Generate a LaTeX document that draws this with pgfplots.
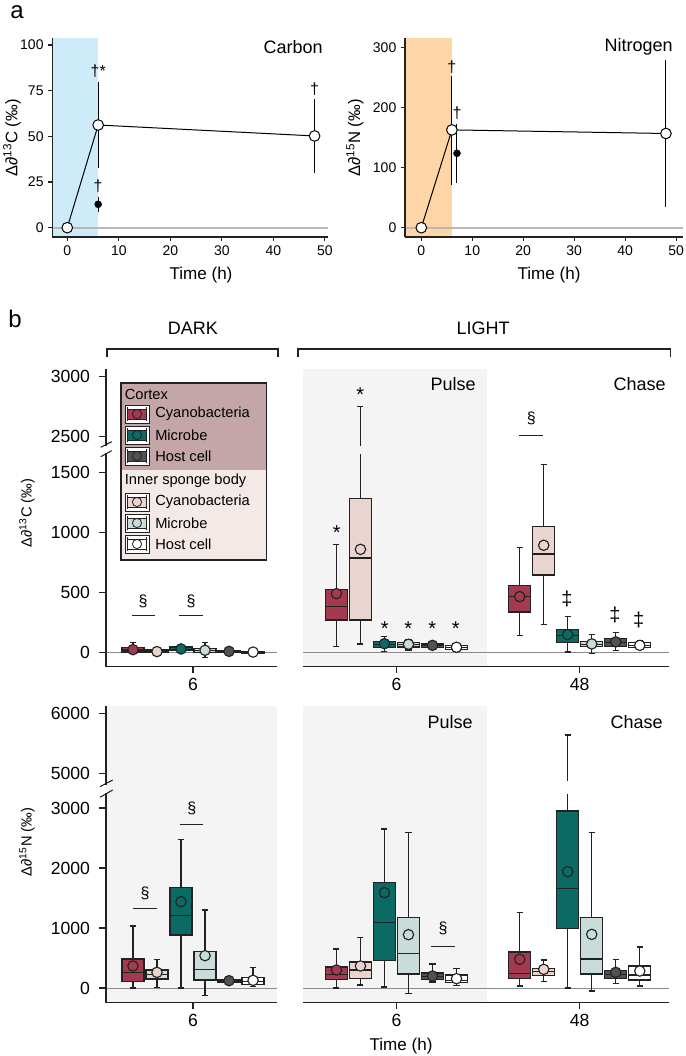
\documentclass[border=0pt]{standalone}
\usepackage{pgfplots}
\pgfplotsset{compat=1.18}
\usepgfplotslibrary{statistics}
\usepackage{fontspec}
\setmainfont{Liberation Sans}
\definecolor{cR}{HTML}{A23A50}
\definecolor{cRi}{HTML}{E9D4CF}
\definecolor{cT}{HTML}{0B6A63}
\definecolor{cTi}{HTML}{C9DCDA}
\definecolor{cH}{HTML}{505350}
\definecolor{cHi}{HTML}{FFFFFF}
\definecolor{bgG}{HTML}{F4F4F4}
\definecolor{legC}{HTML}{C4A6A9}
\definecolor{legI}{HTML}{F3E9E7}
\definecolor{cBlue}{HTML}{CDEBF8}
\definecolor{cOr}{HTML}{FDD5A7}
\definecolor{axc}{HTML}{222222}
\newcommand\fT{\fontsize{10.5}{12}\selectfont}
\newcommand\fTb{\fontsize{13.2}{15}\selectfont}
\newcommand\fTitle{\fontsize{13.5}{15}\selectfont}
\newcommand\fAx{\fontsize{12.8}{14}\selectfont}
\newcommand\fYa{\fontsize{12.5}{14}\selectfont}
\newcommand\fYb{\fontsize{11}{13}\selectfont}
\newcommand\fHd{\fontsize{13.5}{15}\selectfont}
\newcommand\fLeg{\fontsize{11}{13}\selectfont}
\newcommand\fPanel{\fontsize{18}{20}\selectfont}
\newcommand\fSym{\fontsize{12}{14}\selectfont}
\newcommand\fAst{\fontsize{15}{16}\selectfont}
\pgfplotsset{
 base/.style={scale only axis, anchor=south west, axis on top,
   axis line style={line width=0.8pt,-,axc},
   tick align=outside, major tick length=3pt,
   every tick/.style={line width=0.8pt, axc},
   tick label style={font=\fT},
   /pgf/number format/assume math mode=true},
 bpan/.style={base, boxplot/draw direction=y, major tick length=5pt,
   tick label style={font=\fTb}, yticklabel style={xshift=-3.5pt}},
 trC/.style={y coord trafo/.code={\def\tmpa{##1}\ifx\tmpa\empty\let\pgfmathresult\empty\else\pgfmathparse{##1>2000 ? ##1-700 : ##1}\fi}},
 trN/.style={y coord trafo/.code={\def\tmpa{##1}\ifx\tmpa\empty\let\pgfmathresult\empty\else\pgfmathparse{##1>4000 ? ##1-1430 : ##1}\fi}}
}
\newcommand\bx[8]{%
\addplot[draw=axc, fill=#8, line width=0.9pt, boxplot prepared={draw position=#1, lower whisker=#2, lower quartile=#3, median=#4, upper quartile=#5, upper whisker=#6, box extend=0.12, whisker extend=0.033}] coordinates {};
\addplot[only marks, mark=*, mark size=3.9pt, mark options={fill=#8, draw=axc, line width=0.85pt}] coordinates {(#1,#7)};}
\newcommand\lkey[2]{%
\draw[axc, line width=0.6pt, fill=white] (125,{#1-9}) rectangle (149,{#1+9});
\draw[axc, line width=0.5pt, fill=#2] (127.5,{#1-5}) rectangle (146.5,{#1+5});
\draw[axc, line width=0.5pt] (127.5,{#1-7})--(127.5,{#1+7}) (146.5,{#1-7})--(146.5,{#1+7});
\draw[axc, line width=0.6pt, fill=#2] (137,#1) circle[radius=4.6];}
\begin{document}
\begin{tikzpicture}
\useasboundingbox (0,0) rectangle (513.75pt,-792pt);
% ---------- a: carbon
\begin{axis}[base, at={(39.2pt,-177.75pt)}, width=206.8pt, height=149.5pt,
  xmin=-2.91, xmax=50.6, ymin=-5.1, ymax=104,
  axis x line*=bottom, axis y line*=left,
  xtick={0,10,20,30,40,50}, ytick={0,25,50,75,100}]
\fill[cBlue] (axis cs:-2.91,-5.1) rectangle (axis cs:6,104);
\draw[black!28, line width=1.6pt] (axis cs:-2.91,0) -- (axis cs:50.6,0);
\addplot[only marks, mark=none, black, error bars/.cd, y dir=both, y explicit,
  error bar style={line width=0.75pt}, error mark options={mark size=2.3pt, line width=0.75pt}]
  coordinates {(6,56.2) +=(0,21.9) -=(0,21.9) (48,50.2) +=(0,18.4) -=(0,18.6)};
\addplot[black, line width=0.75pt, mark=*, mark size=4pt, mark options={fill=white, line width=0.75pt}]
  coordinates {(0,0) (6,56.2) (48,50.2)};
\addplot[only marks, black, mark=*, mark size=2.6pt, error bars/.cd, y dir=both, y explicit,
  error bar style={line width=0.75pt}, error mark options={mark size=2pt, line width=0.75pt}]
  coordinates {(6,12.8) +=(0,2.7) -=(0,2.8)};
\node[font=\fSym] at (axis cs:6,85.4) {†*};
\node[font=\fSym] at (axis cs:6,22.8) {†};
\node[font=\fSym] at (axis cs:48,75.7) {†};
\end{axis}
% ---------- a: nitrogen
\begin{axis}[base, at={(303.75pt,-177.75pt)}, width=208.7pt, height=149.5pt,
  xmin=-3.2, xmax=51.4, ymin=-15.5, ymax=316.7,
  axis x line*=bottom, axis y line*=left,
  xtick={0,10,20,30,40,50}, ytick={0,100,200,300}]
\fill[cOr] (axis cs:-3.2,-15.5) rectangle (axis cs:6,316.7);
\draw[black!28, line width=1.6pt] (axis cs:-3.2,0) -- (axis cs:51.4,0);
\addplot[only marks, mark=none, black, error bars/.cd, y dir=both, y explicit,
  error bar style={line width=0.75pt}, error mark options={mark size=2.3pt, line width=0.75pt}]
  coordinates {(6,163) +=(0,85) -=(0,87) (48,157) +=(0,118) -=(0,118)};
\addplot[black, line width=0.75pt, mark=*, mark size=4pt, mark options={fill=white, line width=0.75pt}]
  coordinates {(0,0) (6,163) (48,157)};
\addplot[only marks, black, mark=*, mark size=2.6pt, error bars/.cd, y dir=both, y explicit,
  error bar style={line width=0.75pt}, error mark options={mark size=2pt, line width=0.75pt}]
  coordinates {(7,124) +=(0,44) -=(0,44.5)};
\node[font=\fSym] at (axis cs:6,268) {†};
\node[font=\fSym] at (axis cs:7,190) {†};
\end{axis}
% ---------- b: top left (dark, carbon)
\begin{axis}[bpan, trC, at={(79.5pt,-499.875pt)}, width=128.25pt, height=223.125pt,
  xmin=0.5254, xmax=1.458, ymin=-118.3, ymax=3060.8,
  axis x line*=bottom, axis y line*=left,
  xtick={1}, xticklabels={6},
  ytick={0,500,1000,1500,2500,3000}, yticklabels={0,500,1000,1500,2500,3000}]
\draw[black!45, line width=0.7pt] (axis cs:0.5254,0) -- (axis cs:1.458,0);
\bx{0.6725}{0}{3}{20}{42}{81}{22}{cR}
\bx{0.8035}{0}{2}{8}{20}{35}{6}{cRi}
\bx{0.9345}{0}{12}{25}{45}{60}{28}{cT}
\bx{1.0655}{-44}{0}{12}{35}{81}{17}{cTi}
\bx{1.1965}{-5}{0}{6}{18}{25}{8}{cH}
\bx{1.3275}{-10}{-5}{0}{10}{15}{2}{cHi}
\end{axis}
% ---------- b: top right (light, carbon)
\begin{axis}[bpan, trC, at={(227.25pt,-499.875pt)}, width=274.5pt, height=223.125pt,
  xmin=0.49, xmax=2.487, ymin=-118.3, ymax=3060.8,
  axis x line*=bottom, hide y axis,
  xtick={1,2}, xticklabels={6,48}]
\fill[bgG] (axis cs:0.49,-118.3) rectangle (axis cs:1.4935,3060.8);
\draw[black!45, line width=0.7pt] (axis cs:0.49,0) -- (axis cs:2.487,0);
\bx{0.6725}{50}{270}{381}{525}{897}{489}{cR}
\bx{0.8035}{70}{270}{786}{1281}{2750}{858}{cRi}
\bx{0.9345}{8}{42}{65}{92}{133}{72}{cT}
\bx{1.0655}{20}{45}{62}{85}{110}{67}{cTi}
\bx{1.1965}{25}{40}{55}{70}{90}{58}{cH}
\bx{1.3275}{10}{25}{40}{55}{70}{42}{cHi}
\bx{1.6725}{139}{336}{464}{556}{872}{464}{cR}
\bx{1.8035}{233}{645}{820}{1050}{1567}{892}{cRi}
\bx{1.9345}{3}{83}{139}{189}{300}{148}{cT}
\bx{2.0655}{-11}{50}{68}{87}{148}{70}{cTi}
\bx{2.1965}{17}{50}{80}{112}{167}{87}{cH}
\bx{2.3275}{25}{42}{60}{83}{100}{58}{cHi}
\end{axis}
% ---------- b: bottom left (dark, nitrogen)
\begin{axis}[bpan, trN, at={(79.5pt,-752.025pt)}, width=128.25pt, height=222.15pt,
  xmin=0.5254, xmax=1.458, ymin=-245, ymax=6121.7,
  axis background/.style={fill=bgG},
  axis x line*=bottom, axis y line*=left,
  xtick={1}, xticklabels={6},
  ytick={0,1000,2000,3000,5000,6000}, yticklabels={0,1000,2000,3000,5000,6000}]
\draw[black!45, line width=0.7pt] (axis cs:0.5254,0) -- (axis cs:1.458,0);
\bx{0.6725}{0}{111}{261}{483}{1033}{367}{cR}
\bx{0.8035}{11}{150}{222}{300}{478}{261}{cRi}
\bx{0.9345}{0}{883}{1211}{1678}{2478}{1439}{cT}
\bx{1.0655}{-122}{133}{306}{606}{1300}{539}{cTi}
\bx{1.1965}{80}{100}{118}{140}{160}{122}{cH}
\bx{1.3275}{20}{56}{110}{172}{339}{128}{cHi}
\end{axis}
% ---------- b: bottom right (light, nitrogen)
\begin{axis}[bpan, trN, at={(227.25pt,-752.025pt)}, width=274.5pt, height=222.15pt,
  xmin=0.49, xmax=2.487, ymin=-245, ymax=6121.7,
  axis x line*=bottom, hide y axis,
  xtick={1,2}, xticklabels={6,48}]
\fill[bgG] (axis cs:0.49,-245) rectangle (axis cs:1.4935,6121.7);
\draw[black!45, line width=0.7pt] (axis cs:0.49,0) -- (axis cs:2.487,0);
\bx{0.6725}{0}{144}{228}{350}{650}{300}{cR}
\bx{0.8035}{50}{161}{300}{433}{839}{367}{cRi}
\bx{0.9345}{17}{456}{1094}{1761}{2650}{1589}{cT}
\bx{1.0655}{-89}{233}{578}{1178}{2594}{889}{cTi}
\bx{1.1965}{100}{144}{190}{250}{400}{200}{cH}
\bx{1.3275}{44}{89}{130}{217}{322}{156}{cHi}
\bx{1.6725}{33}{161}{244}{600}{1261}{478}{cR}
\bx{1.8035}{106}{211}{270}{322}{467}{311}{cRi}
\bx{1.9345}{0}{994}{1661}{2950}{5647}{1939}{cT}
\bx{2.0655}{-50}{233}{483}{1178}{2589}{894}{cTi}
\bx{2.1965}{78}{156}{220}{294}{478}{261}{cH}
\bx{2.3275}{33}{133}{217}{367}{683}{283}{cHi}
\end{axis}
% ---------- annotations (pixel grid)
\begin{scope}[x=0.75pt, y=-0.75pt]
\node[font=\fPanel] at (17,12) {a};
\node[font=\fPanel] at (15,319) {b};
\node[font=\fTitle, anchor=east, inner sep=0] at (323,47) {Carbon};
\node[font=\fTitle, anchor=east, inner sep=0] at (673,47) {Nitrogen};
\node[font=\fAx] at (201,275) {Time (h)};
\node[font=\fAx] at (549,275) {Time (h)};
\node[font=\fAx] at (401,1046) {Time (h)};
\node[font=\fYa, rotate=90] at (12,138) {Δ∂\textsuperscript{13}C (‰)};
\node[font=\fYa, rotate=90] at (355,138) {Δ∂\textsuperscript{15}N (‰)};
\node[font=\fYb, rotate=90] at (27,513) {Δ∂\textsuperscript{13}C (‰)};
\node[font=\fYb, rotate=90] at (27,842) {Δ∂\textsuperscript{15}N (‰)};
\node[font=\fHd] at (193,328) {DARK};
\node[font=\fHd] at (483,328) {LIGHT};
\draw[axc, line width=0.8pt] (107,357)--(107,349)--(278,349)--(278,357);
\draw[axc, line width=0.8pt] (298,357)--(298,349)--(670.7,349)--(670.7,357);
\node[font=\fTitle, anchor=east, inner sep=0] at (476,384) {Pulse};
\node[font=\fTitle, anchor=east, inner sep=0] at (666,384) {Chase};
\node[font=\fTitle, anchor=east, inner sep=0] at (473,722) {Pulse};
\node[font=\fTitle, anchor=east, inner sep=0] at (663,722) {Chase};
% significance marks
\node[font=\fSym] at (143,601) {§};
\node[font=\fSym] at (191,601) {§};
\draw[axc, line width=0.7pt] (131.7,615)--(155,615) (179.3,615)--(203.3,615);
\node[font=\fSym] at (531.3,418) {§};
\draw[axc, line width=0.7pt] (519.3,435)--(543.3,435);
\foreach \xx/\yy in {336.7/533, 360.3/395, 384.7/629, 408.3/629, 432.3/629, 455.7/629}
  \node[font=\fAst] at (\xx,\yy) {*};
\foreach \xx/\yy in {567/599, 615/615, 638.7/620}
  \node[font=\fAst] at (\xx,\yy) {‡};
\node[font=\fSym] at (145,893) {§};
\draw[axc, line width=0.7pt] (132.7,908)--(156.7,908);
\node[font=\fSym] at (191.7,808) {§};
\draw[axc, line width=0.7pt] (180,824)--(203.3,824);
\node[font=\fSym] at (443,928) {§};
\draw[axc, line width=0.7pt] (431.3,946)--(455.3,946);
% whisker gaps at the axis break
\fill[bgG] (356,446) rectangle (365,454);
\fill[white] (563,781) rectangle (571,794);
% axis breaks
\fill[white] (103,445.5) rectangle (109,453);
\draw[axc, line width=0.8pt] (100.7,447.3)--(111.7,441.7) (100.7,456.7)--(111.7,450.7);
\fill[white] (103,784.5) rectangle (106,792.5);
\fill[bgG] (106.4,784.5) rectangle (109,792.5);
\draw[axc, line width=0.8pt] (100,786.7)--(112.7,780) (100,797.3)--(112.7,790);
% legend
\fill[legC] (121,383) rectangle (266.7,470);
\fill[legI] (121,470) rectangle (266.7,560);
\draw[axc, line width=0.8pt] (121,383) rectangle (266.7,560);
\node[anchor=west, font=\fLeg, inner sep=0] at (124.5,394) {Cortex};
\node[anchor=west, font=\fLeg, inner sep=0] at (124.5,481) {Inner sponge body};
\lkey{414}{cR}\lkey{435}{cT}\lkey{456}{cH}
\lkey{502}{cRi}\lkey{523}{cTi}\lkey{544}{cHi}
\foreach \yy/\tt in {414/Cyanobacteria, 435/Microbe, 456/Host cell, 502/Cyanobacteria, 523/Microbe, 544/Host cell}
  \node[anchor=west, font=\fLeg, inner sep=0] at (155,\yy) {\tt};
\end{scope}
\end{tikzpicture}
\end{document}
